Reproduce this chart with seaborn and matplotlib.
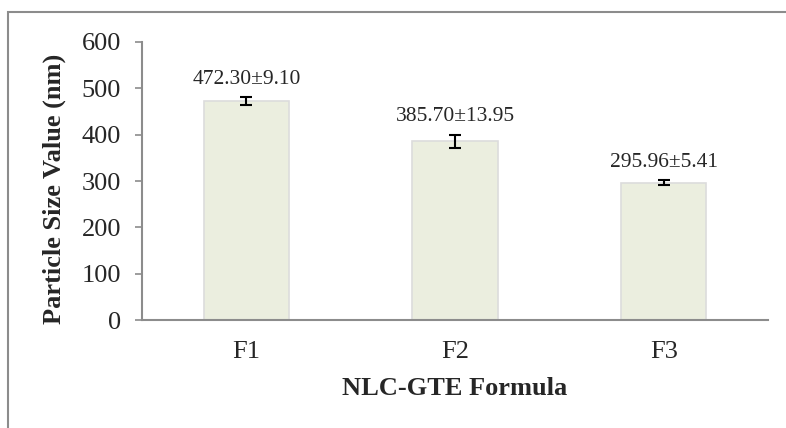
import numpy as np
import matplotlib.pyplot as plt
import matplotlib.patches as mpatches
import pandas as pd
import seaborn as sns

# chart data
formulas = ["F1", "F2", "F3"]
sizes = [472.30, 385.70, 295.96]
errors = [9.10, 13.95, 5.41]
y_ticks = [0, 100, 200, 300, 400, 500, 600]

df = pd.DataFrame({"formula": formulas, "size": sizes, "err": errors})

sns.set_theme(style="white")
plt.rcParams["font.family"] = ["Liberation Serif", "DejaVu Serif"]

fig = plt.figure(figsize=(7.86, 4.28), dpi=100)
ax = fig.add_axes([0.1807, 0.2523, 0.9771 - 0.1807, 0.6496])

# outer frame of the chart area (runs off the right and bottom edge)
frame = mpatches.Rectangle((8 / 786, -0.1), 1.2, 1 - 12 / 428 + 0.1,
                           transform=fig.transFigure, fill=False,
                           edgecolor="#8c8c8c", linewidth=1.5, clip_on=False)
fig.patches.append(frame)

sns.barplot(data=df, x="formula", y="size", ax=ax, color="#ebeedf",
            width=0.41, saturation=1, edgecolor="#dcdcdc", linewidth=1.2)

ax.errorbar(np.arange(len(formulas)), df["size"], yerr=df["err"], fmt="none",
            ecolor="black", elinewidth=1.5, capsize=4, capthick=1.5)

for i, row in df.iterrows():
    ax.annotate(f"{row['size']:.2f}±{row['err']:.2f}",
                (i, row["size"] + row["err"]), xytext=(0, 6),
                textcoords="offset points", ha="center", va="bottom",
                fontsize=15.5)

ax.set_ylim(0, 600)
ax.set_yticks(y_ticks)
ax.set_xlim(-0.5, 2.5)
ax.tick_params(axis="y", labelsize=19, length=5, width=1.2, color="#8c8c8c",
               direction="out", left=True, pad=10)
ax.tick_params(axis="x", labelsize=19, length=0, pad=15)

for s in ["top", "right"]:
    ax.spines[s].set_visible(False)
for s in ["left", "bottom"]:
    ax.spines[s].set_color("#8c8c8c")
    ax.spines[s].set_linewidth(1.5)

ax.set_xlabel("NLC-GTE Formula", fontsize=19, fontweight="bold", labelpad=10)
ax.set_ylabel("Particle Size Value (nm)", fontsize=19, fontweight="bold",
              labelpad=5)
ax.yaxis.set_label_coords(-0.122, 0.47)

fig.savefig("out.png", dpi=100)
